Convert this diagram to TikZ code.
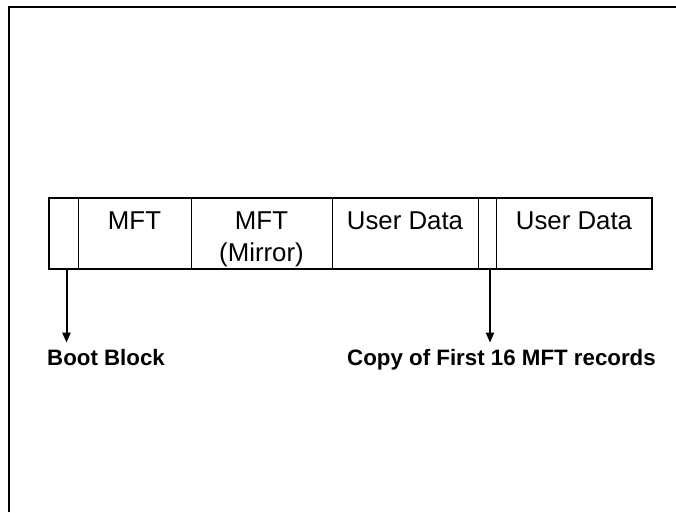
\documentclass[tikz,border=0pt]{standalone}
\usepackage{fontspec}
\setmainfont{Liberation Sans}
\usepackage{tikz}
\usetikzlibrary{positioning,arrows.meta}

\newcommand{\cellfont}{\fontsize{25.8}{32.5}\selectfont}
\newcommand{\tagfont}{\fontsize{22.3}{26}\selectfont\bfseries}

\tikzset{
  cell/.style={draw, line width=0.9pt, inner sep=0pt, outer sep=0pt,
    minimum height=71pt, text height=31pt, text depth=40pt,
    font=\cellfont},
  tag/.style={inner sep=6pt, anchor=base, font=\tagfont},
  pointer/.style={-{Triangle[length=10pt,width=8pt]}, line width=2pt}
}

\begin{document}
\begin{tikzpicture}[x=1pt, y=-1pt]

    \useasboundingbox (0,0) rectangle (676,512);

    % Frame (only top and left edge show)
    \draw[line width=2.2pt] (9,512) -- (9,7) -- (676,7);

    % Volume layout
    \node[cell, minimum width=29pt, anchor=north west] (boot) at (49,198) {};
    \node[cell, minimum width=113pt, right=0pt of boot] (mft) {MFT};
    \node[cell, minimum width=141pt, right=0pt of mft] (mirror)
      {\begin{tabular}[t]{@{}c@{}}MFT\\(Mirror)\end{tabular}};
    \node[cell, minimum width=146pt, right=0pt of mirror] (data1) {User Data};
    \node[cell, minimum width=18pt, right=0pt of data1] (copy) {};
    \node[cell, minimum width=156pt, right=0pt of copy] (data2) {User Data};

    % Heavier outline round the whole volume
    \draw[line width=1.6pt] (boot.north west) rectangle (data2.south east);

    % Labels below
    \node[tag] (bootlbl) at (106,365) {Boot Block};
    \node[tag] (copylbl) at (501.5,365) {Copy of First 16 MFT records};

    % Pointers
    \draw[pointer] ([xshift=3pt]boot.south) -- ([xshift=3pt]boot.south |- bootlbl.north);
    \draw[pointer] ([xshift=3pt]copy.south) -- ([xshift=3pt]copy.south |- copylbl.north);

\end{tikzpicture}
\end{document}
